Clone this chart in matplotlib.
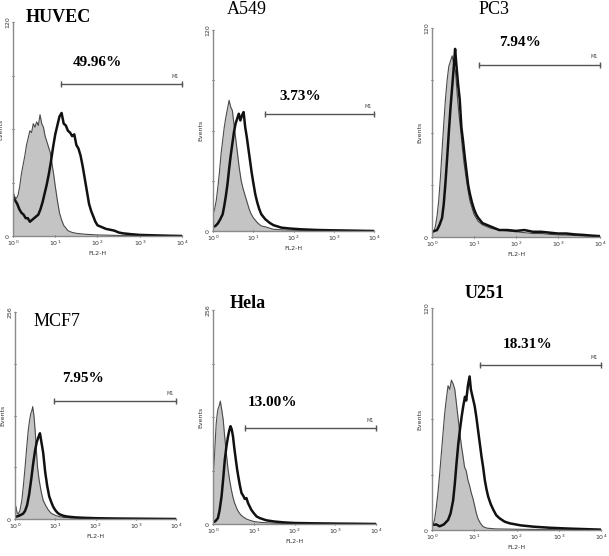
import numpy as np
import matplotlib
matplotlib.use('Agg')
import matplotlib.pyplot as plt

# Panel names and labels
names = ['HUVEC', 'A549', 'PC3', 'MCF7', 'Hela', 'U251']
title_bold = [True, False, False, False, True, True]
percents = ['49.96%', '3.73%', '7.94%', '7.95%', '13.00%', '18.31%']
ymax = [120, 120, 120, 256, 256, 120]
# M1 gate: start (log10 FL2-H) and height (events)
gate_start = [1.13, 1.29, 1.11, 0.97, 0.78, 1.13]
gate_level = [85, 70, 99, 146, 115, 89]

# Histograms: x in log10(FL2-H), y in events
huvec_ctrl_x = [0, 0.04, 0.08, 0.12, 0.16, 0.2, 0.24, 0.28, 0.32, 0.36, 0.4, 0.44, 0.48, 0.52, 0.56, 0.6, 0.64, 0.68, 0.72, 0.76, 0.8, 0.84, 0.88, 0.92, 0.96, 1.0, 1.05, 1.1, 1.15, 1.2, 1.3, 1.4, 1.5, 1.7, 2.0, 2.5, 3.0, 4.0]
huvec_ctrl_y = [25, 22, 21, 23, 28, 35, 40, 45, 51, 55, 59, 58, 63, 61, 64, 62, 68, 63, 61, 56, 53, 50, 47, 41, 35, 28, 20, 13, 9, 6, 3, 2, 1.5, 1, 0.6, 0.3, 0.2, 0]
huvec_stain_x = [0, 0.05, 0.1, 0.15, 0.2, 0.25, 0.3, 0.35, 0.4, 0.45, 0.5, 0.55, 0.6, 0.65, 0.7, 0.75, 0.8, 0.85, 0.9, 0.95, 1.0, 1.05, 1.1, 1.15, 1.2, 1.25, 1.3, 1.35, 1.4, 1.45, 1.5, 1.55, 1.6, 1.65, 1.7, 1.75, 1.8, 1.85, 1.9, 1.95, 2.0, 2.1, 2.2, 2.3, 2.4, 2.5, 2.6, 2.8, 3.0, 3.3, 3.6, 4.0]
huvec_stain_y = [22, 20, 18, 15, 13, 12, 10, 10, 8, 9, 10, 11, 12, 15, 19, 24, 29, 35, 42, 50, 57, 62, 67, 69, 63, 62, 59, 58, 56, 57, 51, 49, 45, 39, 32, 25, 18, 14, 11, 8, 6, 5, 4, 3.5, 3, 2, 1.5, 1, 0.6, 0.4, 0.2, 0]

a549_ctrl_x = [0, 0.04, 0.08, 0.12, 0.16, 0.2, 0.24, 0.28, 0.32, 0.36, 0.4, 0.44, 0.48, 0.52, 0.56, 0.6, 0.65, 0.7, 0.75, 0.8, 0.85, 0.9, 0.95, 1.0, 1.1, 1.2, 1.3, 1.5, 1.8, 2.2, 3.0, 4.0]
a549_ctrl_y = [10, 13, 18, 26, 35, 46, 54, 62, 68, 73, 78, 74, 72, 64, 56, 48, 38, 30, 25, 21, 17, 13, 10, 8, 5, 3, 2.5, 1, 0.6, 0.3, 0.2, 0]
a549_stain_x = [0, 0.06, 0.12, 0.18, 0.24, 0.28, 0.32, 0.36, 0.4, 0.44, 0.48, 0.52, 0.56, 0.6, 0.64, 0.68, 0.72, 0.76, 0.8, 0.84, 0.88, 0.92, 0.96, 1.0, 1.05, 1.1, 1.15, 1.2, 1.3, 1.4, 1.5, 1.7, 1.9, 2.2, 2.6, 3.0, 3.5, 4.0]
a549_stain_y = [2.5, 3, 4.5, 7, 10, 15, 21, 28, 37, 45, 52, 59, 64, 67, 70, 66, 69, 71, 62, 56, 49, 42, 35, 29, 22, 17, 13, 10, 7, 5, 3.5, 2, 1.5, 1, 0.6, 0.4, 0.2, 0]

pc3_ctrl_x = [0, 0.04, 0.08, 0.12, 0.16, 0.2, 0.24, 0.28, 0.32, 0.36, 0.4, 0.44, 0.48, 0.52, 0.56, 0.6, 0.64, 0.68, 0.72, 0.76, 0.8, 0.85, 0.9, 0.95, 1.0, 1.1, 1.2, 1.3, 1.4, 1.6, 1.8, 2.0, 2.2, 2.4, 2.6, 2.8, 3.0, 3.3, 3.6, 4.0]
pc3_ctrl_y = [2, 3, 6, 12, 21, 34, 50, 65, 79, 90, 98, 101, 104, 99, 95, 82, 71, 62, 52, 43, 36, 28, 21, 17, 13, 9, 7, 6, 5, 4, 3.5, 3, 2.5, 2, 2, 1.5, 1.2, 1, 0.6, 0.3]
pc3_stain_x = [0, 0.06, 0.12, 0.18, 0.24, 0.28, 0.32, 0.36, 0.4, 0.44, 0.48, 0.52, 0.55, 0.58, 0.62, 0.66, 0.7, 0.74, 0.78, 0.82, 0.86, 0.9, 0.95, 1.0, 1.05, 1.1, 1.2, 1.3, 1.4, 1.5, 1.6, 1.8, 2.0, 2.2, 2.4, 2.6, 2.8, 3.0, 3.2, 3.4, 3.6, 3.8, 4.0]
pc3_stain_y = [3, 3.5, 4, 7, 11, 19, 31, 45, 60, 74, 86, 98, 108, 99, 88, 79, 63, 55, 46, 38, 30, 25, 20, 16, 13, 11, 8, 7, 6, 5, 4, 4, 3.5, 4, 3, 3, 2.5, 2, 2, 1.5, 1.2, 0.8, 0.5]

mcf7_ctrl_x = [0, 0.02, 0.05, 0.08, 0.12, 0.17, 0.21, 0.25, 0.29, 0.33, 0.36, 0.39, 0.42, 0.44, 0.47, 0.5, 0.53, 0.56, 0.6, 0.65, 0.7, 0.77, 0.83, 0.9, 1.0, 1.1, 1.2, 1.4, 1.7, 2.0, 2.5, 3.0, 4.0]
mcf7_ctrl_y = [11, 16, 8, 6, 10, 23, 42, 64, 88, 110, 121, 130, 134, 139, 128, 110, 86, 64, 48, 34, 23, 16, 11, 7, 4.5, 3, 2, 1.2, 0.8, 0.5, 0.3, 0.2, 0]
mcf7_stain_x = [0, 0.1, 0.2, 0.25, 0.3, 0.35, 0.4, 0.45, 0.5, 0.54, 0.58, 0.62, 0.66, 0.7, 0.75, 0.8, 0.85, 0.9, 0.95, 1.0, 1.05, 1.1, 1.2, 1.3, 1.5, 1.7, 2.0, 2.5, 3.0, 3.5, 4.0]
mcf7_stain_y = [2.5, 4, 6.5, 10, 17, 30, 48, 68, 85, 95, 101, 106, 94, 82, 58, 41, 28, 21, 15, 11, 8, 6, 4, 3, 2, 1.5, 1, 0.6, 0.4, 0.2, 0]

hela_ctrl_x = [0, 0.02, 0.04, 0.06, 0.08, 0.1, 0.12, 0.15, 0.18, 0.21, 0.25, 0.28, 0.31, 0.34, 0.37, 0.41, 0.45, 0.49, 0.53, 0.58, 0.62, 0.68, 0.74, 0.82, 0.9, 1.0, 1.15, 1.3, 1.5, 1.8, 2.2, 3.0, 4.0]
hela_ctrl_y = [53, 68, 85, 104, 121, 130, 137, 141, 147, 138, 125, 108, 93, 79, 65, 52, 41, 32, 25, 19, 15, 11, 8.5, 6, 4.5, 3, 2, 1.5, 1, 0.6, 0.4, 0.2, 0]
hela_stain_x = [0, 0.06, 0.12, 0.16, 0.21, 0.25, 0.29, 0.33, 0.37, 0.4, 0.43, 0.46, 0.49, 0.52, 0.56, 0.59, 0.62, 0.66, 0.7, 0.74, 0.78, 0.82, 0.86, 0.9, 0.94, 1.0, 1.07, 1.15, 1.31, 1.5, 1.72, 2.0, 2.5, 3.0, 3.5, 4.0]
hela_stain_y = [2, 3.5, 7, 16, 33, 54, 77, 93, 105, 112, 117, 113, 105, 92, 77, 66, 57, 46, 37, 34, 30, 31, 25, 21, 17, 13, 9, 7, 4.4, 3, 2, 1.2, 0.8, 0.5, 0.3, 0]

u251_ctrl_x = [0, 0.06, 0.1, 0.14, 0.18, 0.22, 0.26, 0.3, 0.34, 0.38, 0.42, 0.46, 0.5, 0.54, 0.58, 0.62, 0.66, 0.7, 0.74, 0.77, 0.81, 0.85, 0.89, 0.93, 0.97, 1.01, 1.05, 1.09, 1.15, 1.21, 1.3, 1.5, 2.0, 3.0, 4.0]
u251_ctrl_y = [1.8, 5.4, 12, 20, 30, 41, 52, 63, 71, 78, 76, 81, 79, 76, 68, 60, 52, 45, 39, 34, 32, 27, 24, 20, 17, 13, 9, 6, 3.5, 1.8, 1, 0.6, 0.4, 0.2, 0]
u251_stain_x = [0, 0.1, 0.18, 0.28, 0.38, 0.44, 0.5, 0.54, 0.58, 0.62, 0.66, 0.7, 0.74, 0.78, 0.81, 0.85, 0.89, 0.92, 0.96, 1.01, 1.05, 1.09, 1.13, 1.17, 1.21, 1.25, 1.29, 1.33, 1.39, 1.45, 1.52, 1.6, 1.72, 1.84, 2.1, 2.4, 2.8, 3.2, 3.6, 4.0]
u251_stain_y = [2.7, 3, 2, 3, 5.4, 9, 16, 25, 36, 46, 54, 61, 67, 72, 70, 78, 83, 76, 72, 67, 61, 54, 47, 40, 34, 27, 22, 18, 14, 11, 8, 6.3, 4.5, 3.6, 2.5, 1.8, 1.2, 0.8, 0.5, 0.2]

ctrl = [(huvec_ctrl_x, huvec_ctrl_y), (a549_ctrl_x, a549_ctrl_y), (pc3_ctrl_x, pc3_ctrl_y),
        (mcf7_ctrl_x, mcf7_ctrl_y), (hela_ctrl_x, hela_ctrl_y), (u251_ctrl_x, u251_ctrl_y)]
stain = [(huvec_stain_x, huvec_stain_y), (a549_stain_x, a549_stain_y), (pc3_stain_x, pc3_stain_y),
         (mcf7_stain_x, mcf7_stain_y), (hela_stain_x, hela_stain_y), (u251_stain_x, u251_stain_y)]

# Axes boxes in pixels (left, right, top, bottom), figure 609x556
W, H = 609, 556
boxes = [(13, 182, 22, 236), (213, 374, 30, 231), (432, 600, 28, 237),
         (15, 176, 312, 519), (213, 376, 310, 524), (432, 601, 308, 530)]
# title and percentage centres in pixels
title_pos = [(58, 18), (247, 10), (494, 10), (57, 322), (248, 304), (485, 293)]
pct_pos = [(97, 62), (300, 96), (520, 43), (83, 378), (272, 402), (528, 344)]

fig = plt.figure(figsize=(W / 100, H / 100), dpi=100)
axis_grey = '#8a8a8a'
serif = 'Liberation Serif'

for i in range(6):
    l, r, t, b = boxes[i]
    ax = fig.add_axes([l / W, 1 - b / H, (r - l) / W, (b - t) / H])
    cx = 10 ** np.array(ctrl[i][0])
    cy = np.array(ctrl[i][1])
    sx = 10 ** np.array(stain[i][0])
    sy = np.array(stain[i][1])
    ax.fill_between(cx, 0, cy, color='#c4c4c4', lw=0)
    ax.plot(cx, cy, color='#4a4a4a', lw=0.8)
    ax.plot(sx, sy, color='#111111', lw=1.8)

    # M1 gate marker
    g0 = 10 ** gate_start[i]
    ax.plot([g0, 1e4], [gate_level[i]] * 2, color='#555555', lw=1.0,
            marker='|', ms=4, mew=1.0, clip_on=False)
    ax.text(10 ** 3.85, gate_level[i] + ymax[i] * 0.025, 'M1', fontsize=3.5,
            color='#444444', ha='center', va='bottom')

    ax.set_xscale('log')
    ax.set_xlim(1, 1e4)
    ax.set_ylim(0, ymax[i])
    for s in ['top', 'right']:
        ax.spines[s].set_visible(False)
    for s in ['left', 'bottom']:
        ax.spines[s].set_color(axis_grey)
        ax.spines[s].set_linewidth(1.0)
    ax.set_xticks([1, 10, 100, 1000, 10000])
    ax.set_xticklabels([r'$10^0$', r'$10^1$', r'$10^2$', r'$10^3$', r'$10^4$'])
    ax.xaxis.set_minor_locator(matplotlib.ticker.NullLocator())
    ax.set_yticks(np.linspace(0, ymax[i], 5))
    ax.set_yticklabels(['0', '', '', '', str(ymax[i])], rotation=90, va='center')
    ax.tick_params(axis='both', labelsize=4.5, colors='#333333', length=2,
                   width=0.6, pad=1, direction='inout')
    ax.set_xlabel('FL2-H', fontsize=4.5, labelpad=2, color='#333333')
    ax.set_ylabel('Events', fontsize=4.5, labelpad=1, color='#333333')
    ax.patch.set_alpha(0)

    tx, ty = title_pos[i]
    fig.text(tx / W, 1 - ty / H, names[i], fontsize=13, family=serif,
             weight='bold' if title_bold[i] else 'normal', ha='center', va='center')
    px, py = pct_pos[i]
    fig.text(px / W, 1 - py / H, percents[i], fontsize=11, family=serif,
             weight='bold', ha='center', va='center')

fig.savefig('out.png', dpi=100)
